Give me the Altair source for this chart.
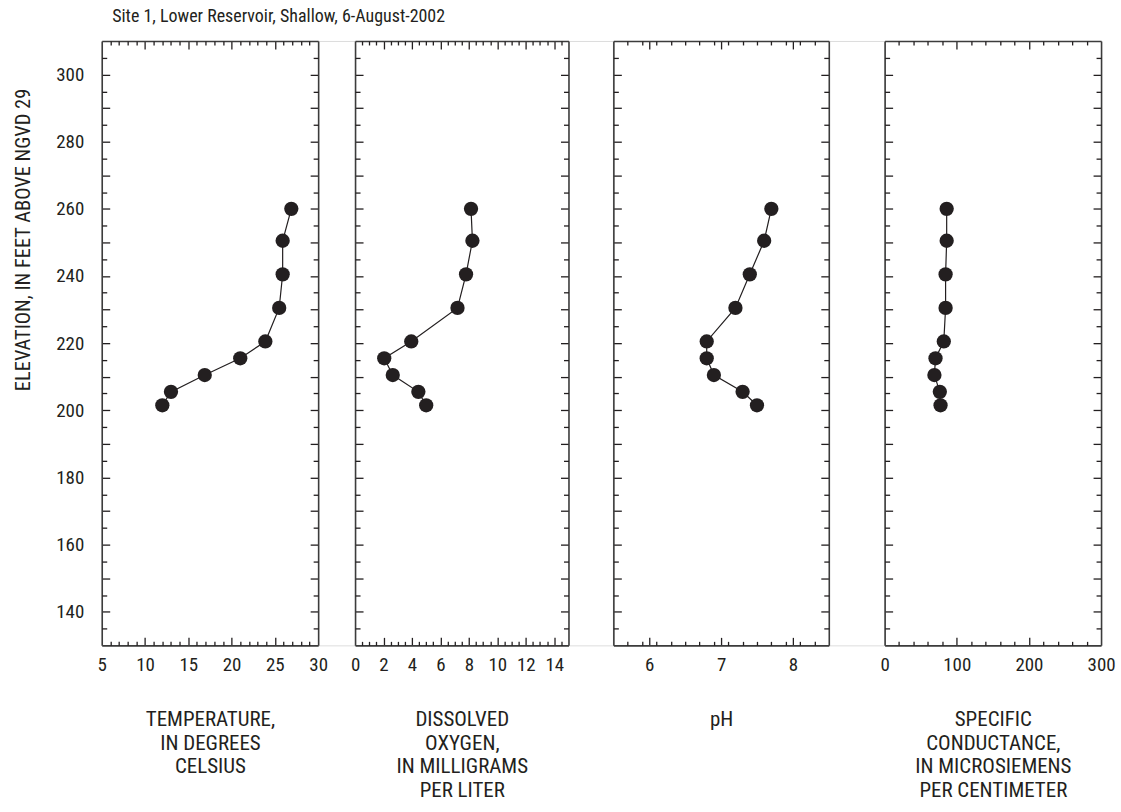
import altair as alt
import pandas as pd

# ---- data ----
elevation = [260, 250.5, 240.5, 230.5, 220.5, 215.5, 210.5, 205.5, 201.5]
temperature = [26.9, 25.9, 25.9, 25.5, 23.9, 21.0, 16.9, 13.0, 12.0]
dissolved_oxygen = [8.15, 8.25, 7.8, 7.2, 3.95, 2.05, 2.65, 4.45, 5.0]
ph = [7.7, 7.6, 7.4, 7.2, 6.8, 6.8, 6.9, 7.3, 7.5]
conductance = [86, 86, 84.5, 84.5, 82, 70.5, 69, 76.5, 77.5]

y_domain = [130, 310]
y_labels = [140, 160, 180, 200, 220, 240, 260, 280, 300]

TITLE = "Site 1, Lower Reservoir, Shallow, 6-August-2002"
Y_TITLE = "ELEVATION, IN FEET ABOVE NGVD 29"

panels = [
    dict(field="temp", domain=[5, 30], labels=[5, 10, 15, 20, 25, 30], major_step=5, minor_step=1,
         title=["TEMPERATURE,", "IN DEGREES", "CELSIUS"], width=217, gap=37),
    dict(field="do", domain=[0, 15], labels=[0, 2, 4, 6, 8, 10, 12, 14], major_step=2, minor_step=0.5,
         title=["DISSOLVED", "OXYGEN,", "IN MILLIGRAMS", "PER LITER"], width=214, gap=44.5),
    dict(field="ph", domain=[5.5, 8.5], labels=[6, 7, 8], major_step=1, minor_step=0.2,
         title=["pH"], width=216, gap=55.5),
    dict(field="sc", domain=[0, 300], labels=[0, 100, 200, 300], major_step=100, minor_step=20,
         title=["SPECIFIC", "CONDUCTANCE,", "IN MICROSIEMENS", "PER CENTIMETER"], width=217, gap=0),
]

df = pd.DataFrame({
    "step": list(range(len(elevation))),
    "elev": elevation,
    "temp": temperature,
    "do": dissolved_oxygen,
    "ph": ph,
    "sc": conductance,
})

FONT = "Liberation Sans Narrow, Arial Narrow, Roboto Condensed, DejaVu Sans Condensed, sans-serif"
INK = "#231f20"
FRAME = "#3c3c3c"
H = 606


def frange(a, b, step):
    n = int(round((b - a) / step))
    return [round(a + i * step, 6) for i in range(n + 1)]


def tick_axis(orient, offset, size, values, domain):
    kw = dict(orient=orient, offset=offset, tickSize=size, values=values, labels=False,
              grid=False, title=None, ticks=True, tickColor=INK, tickWidth=1.3, domain=domain)
    if domain:
        kw.update(domainColor=FRAME, domainWidth=1.6)
    return alt.Axis(**kw)


def make_panel(p, first):
    W = p["width"]
    VW = W + p["gap"]
    lo, hi = p["domain"]
    xs = alt.Scale(domain=p["domain"], nice=False, zero=False, range=[0, W])
    ys = alt.Scale(domain=y_domain, nice=False, zero=False)
    f = p["field"] + ":Q"

    start_major = p["labels"][0] - p["major_step"] * int((p["labels"][0] - lo) / p["major_step"])
    x_major = [v for v in frange(start_major, hi, p["major_step"]) if lo < v < hi]
    x_minor = [v for v in frange(lo, hi, p["minor_step"]) if v not in x_major and lo < v < hi]
    y_major = [v for v in frange(130, 310, 10) if 130 < v < 310]
    y_minor = [v for v in frange(130, 310, 5) if v not in y_major and 130 < v < 310]

    x_label_axis = alt.Axis(orient="bottom", values=p["labels"], ticks=False, domain=False, grid=False,
                            labelFont=FONT, labelFontSize=19, labelColor=INK, labelPadding=10,
                            labelFlush=False, labelOverlap=False,
                            title=p["title"], titleFont=FONT, titleFontSize=21, titleFontWeight="normal",
                            titleColor=INK, titlePadding=34, titleLineHeight=24,
                            titleX=W / 2, titleAlign="center")
    if first:
        y_label_axis = alt.Axis(orient="left", values=y_labels, ticks=False, domain=False, grid=False,
                                labelFont=FONT, labelFontSize=19, labelColor=INK, labelPadding=18,
                                title=Y_TITLE, titleFont=FONT, titleFontSize=20.5, titleFontWeight="normal",
                                titleColor=INK, titleAngle=270, titleX=-78, titleY=199,
                                titleAlign="center", titleBaseline="middle")
    else:
        y_label_axis = None

    x_axes = [
        x_label_axis,
        tick_axis("top", -H, 8, x_major, True),      # bottom edge (frame + inward major)
        tick_axis("top", -H, 4, x_minor, False),     # bottom edge, inward minor
        tick_axis("bottom", -H, 8, x_major, True),   # top edge (frame + inward major)
        tick_axis("bottom", -H, 4, x_minor, False),  # top edge, inward minor
    ]
    y_axes = [
        y_label_axis,
        tick_axis("right", -VW, 8, y_major, True),   # left edge (frame + inward major)
        tick_axis("right", -VW, 5, y_minor, False),  # left edge, inward minor
        tick_axis("left", -W, 8, y_major, True),     # right edge (frame + inward major)
        tick_axis("left", -W, 5, y_minor, False),    # right edge, inward minor
    ]

    base = alt.Chart(df)
    layers = []
    for xa, ya in zip(x_axes, y_axes):
        layers.append(base.mark_point(opacity=0).encode(
            x=alt.X(f, scale=xs, axis=xa),
            y=alt.Y("elev:Q", scale=ys, axis=ya),
        ))
    line = base.mark_line(color=INK, strokeWidth=1.2).encode(
        x=alt.X(f, scale=xs, axis=None),
        y=alt.Y("elev:Q", scale=ys, axis=None),
        order="step:Q",
    )
    pts = base.mark_circle(color=INK, opacity=1, size=205).encode(
        x=alt.X(f, scale=xs, axis=None),
        y=alt.Y("elev:Q", scale=ys, axis=None),
    )
    return alt.layer(*layers, line, pts).resolve_axis(x="independent", y="independent").properties(
        width=VW, height=H)


charts = [make_panel(p, i == 0) for i, p in enumerate(panels)]

chart = alt.hconcat(*charts, spacing=0, bounds="flush").properties(
    title=alt.TitleParams(TITLE, anchor="start", font=FONT, fontSize=18, fontWeight="normal",
                          color=INK, dx=99, offset=14),
    padding={"left": 13, "top": 6, "right": 5, "bottom": 5},
).configure_view(strokeWidth=0).configure(background="white")

chart.save("out.html", embed_options={"renderer": "svg", "actions": False})
